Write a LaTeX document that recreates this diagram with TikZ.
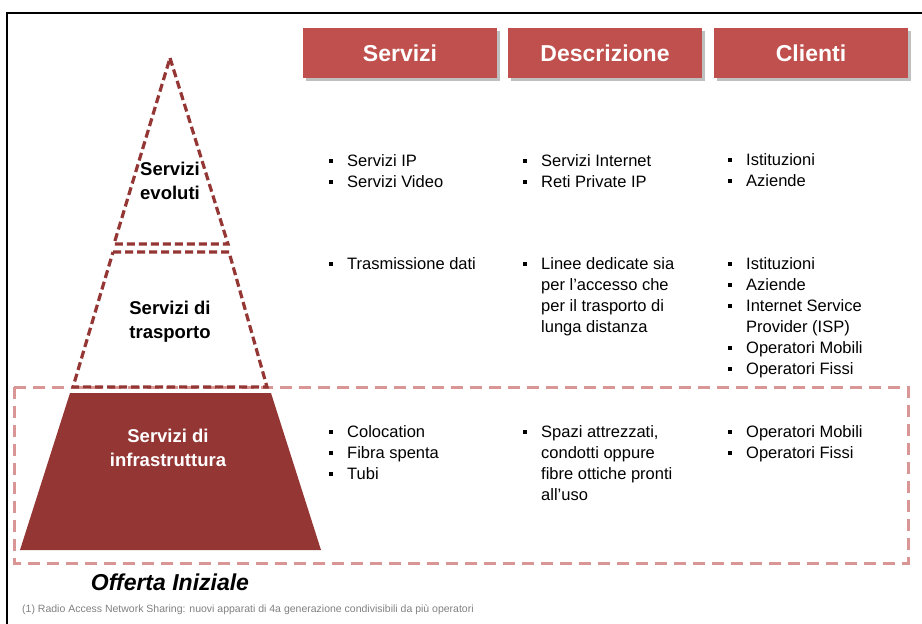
\documentclass[tikz,border=0pt]{standalone}
\usepackage{fontspec}
\setmainfont{Liberation Sans}
\usetikzlibrary{positioning, shadows}
\definecolor{headred}{RGB}{192,80,77}
\definecolor{pyrdark}{RGB}{148,54,52}
\definecolor{dashpink}{RGB}{217,150,148}
\definecolor{notegray}{RGB}{128,128,128}
\newcommand{\blt}{\rule[3.5pt]{4pt}{4pt}}
\newcommand{\blist}[1]{\begin{tabular}[t]{@{}l@{\hspace{14pt}}l@{}}#1\end{tabular}}
\tikzset{
  header/.style={fill=headred, text=white, minimum width=194pt, minimum height=50pt,
    inner sep=0pt, font=\fontsize{23}{27}\selectfont\bfseries,
    drop shadow={shadow xshift=3pt, shadow yshift=-3pt, opacity=.5}},
  level/.style={draw=pyrdark, line width=3.2pt, dash pattern=on 8pt off 4pt},
  pyrtext/.style={align=center, inner sep=0pt, font=\fontsize{18.5}{24}\selectfont\bfseries},
  entry/.style={anchor=base west, inner sep=0pt, font=\fontsize{16.5}{21}\selectfont}
}

\begin{document}
\begin{tikzpicture}[x=1pt, y=-1pt]
    \useasboundingbox (0,0) rectangle (922,624);
    \draw[line width=2.4pt] (7,624) -- (7,13) -- (922,13);

    % column headers
    \node[header] (hservizi) at (400,53) {Servizi};
    \node[header] (hdescr) at (605,53) {Descrizione};
    \node[header] (hclienti) at (811,53) {Clienti};

    % initial offer
    \draw[dashpink, line width=3pt, dash pattern=on 12pt off 7pt] (14,387) rectangle (908,563);

    % pyramid
    \draw[level, line join=miter] (170,58) -- (228,244) -- (114,244) -- cycle;
    \draw[level] (113,252) -- (229,252) -- (267,387) -- (73,387) -- cycle;
    \fill[pyrdark] (70,393) -- (271,393) -- (321,550) -- (20,550) -- cycle;

    \node[pyrtext] (evoluti) at (170,181) {Servizi\\evoluti};
    \node[pyrtext] (trasporto) at (170,322) {Servizi di\\trasporto};
    \node[pyrtext, text=white] (infra) at (168,448) {Servizi di\\infrastruttura};

    % rows
    \node[entry] (srv1) at (329,166) {\blist{\blt & Servizi IP\\ \blt & Servizi Video}};
    \node[entry] (dsc1) at (523,166) {\blist{\blt & Servizi Internet\\ \blt & Reti Private IP}};
    \node[entry] (cli1) at (728,165) {\blist{\blt & Istituzioni\\ \blt & Aziende}};

    \node[entry] (srv2) at (329,269) {\blist{\blt & Trasmissione dati}};
    \node[entry] (dsc2) at (523,269) {\blist{\blt & Linee dedicate sia\\ & per l'accesso che\\ & per il trasporto di\\ & lunga distanza}};
    \node[entry] (cli2) at (728,269) {\blist{\blt & Istituzioni\\ \blt & Aziende\\ \blt & Internet Service\\ & Provider (ISP)\\ \blt & Operatori Mobili\\ \blt & Operatori Fissi}};

    \node[entry] (srv3) at (329,437) {\blist{\blt & Colocation\\ \blt & Fibra spenta\\ \blt & Tubi}};
    \node[entry] (dsc3) at (523,437) {\blist{\blt & Spazi attrezzati,\\ & condotti oppure\\ & fibre ottiche pronti\\ & all'uso}};
    \node[entry] (cli3) at (728,437) {\blist{\blt & Operatori Mobili\\ \blt & Operatori Fissi}};

    \node[font=\fontsize{23}{27}\selectfont\bfseries\itshape] (offerta) at (170,582) {Offerta Iniziale};
    \node[anchor=base west, inner sep=0pt, text=notegray, font=\fontsize{10.5}{12}\selectfont] (nota) at (22,612)
        {(1) Radio Access Network Sharing: nuovi apparati di 4a generazione condivisibili da più operatori};
\end{tikzpicture}
\end{document}
